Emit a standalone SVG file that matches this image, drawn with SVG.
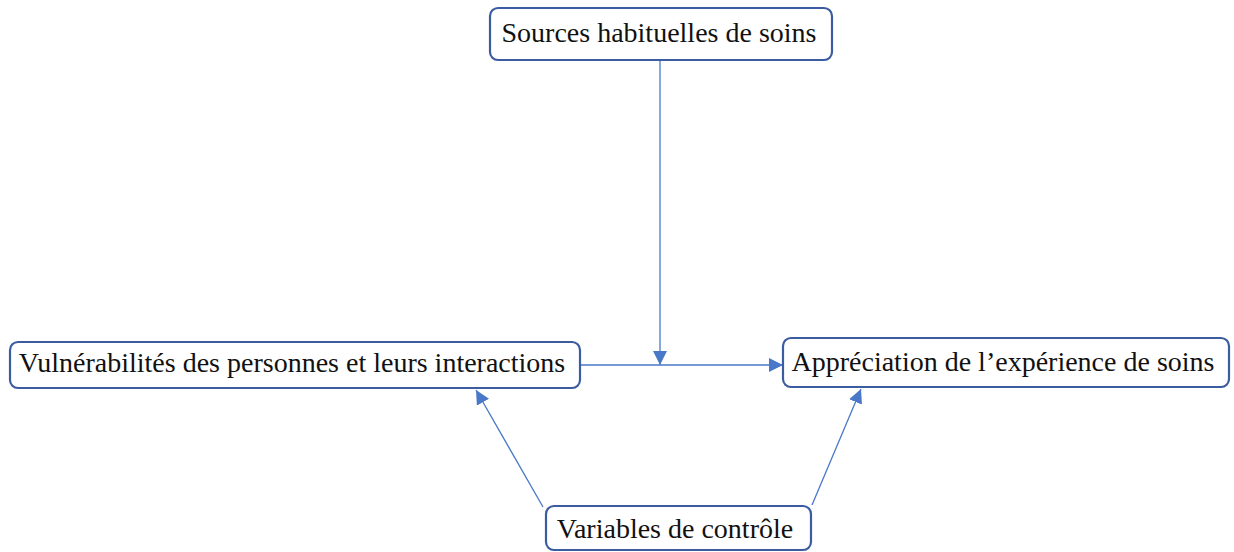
<svg xmlns="http://www.w3.org/2000/svg" width="1234" height="552" viewBox="0 0 1234 552">
<style>
.box{fill:#fff;stroke:#3b5ca0;stroke-width:2.2}
.lbl{font-family:"Liberation Serif","Times New Roman",serif;font-size:28px;fill:#111;text-anchor:middle}
.conn{stroke:#4a78c8;stroke-width:1.3;fill:none}
</style>
<defs>
<marker id="ah" viewBox="0 0 10 10" refX="10" refY="5" markerWidth="14" markerHeight="14" markerUnits="userSpaceOnUse" orient="auto">
<path d="M0,0 L10,5 L0,10 z" fill="#4a78c8"/>
</marker>
</defs>
<g id="connectors">
<line class="conn" x1="580" y1="365" x2="783" y2="365" marker-end="url(#ah)"/>
<line class="conn" x1="660" y1="60" x2="660" y2="365" marker-end="url(#ah)"/>
<line class="conn" x1="543" y1="507" x2="476" y2="390" marker-end="url(#ah)"/>
<line class="conn" x1="812" y1="505" x2="861" y2="389" marker-end="url(#ah)"/>
</g>
<g id="n_sources">
<rect class="box" x="490" y="8" width="342" height="52" rx="8"/>
<text class="lbl" x="659" y="42">Sources habituelles de soins</text>
</g>
<g id="n_vuln">
<rect class="box" x="10" y="342" width="570" height="46" rx="8"/>
<text class="lbl" x="292" y="372">Vulnérabilités des personnes et leurs interactions</text>
</g>
<g id="n_appr">
<rect class="box" x="783" y="338" width="446" height="49" rx="8"/>
<text class="lbl" x="1003" y="371">Appréciation de l’expérience de soins</text>
</g>
<g id="n_ctrl">
<rect class="box" x="546" y="506" width="265" height="44" rx="8"/>
<text class="lbl" x="675" y="538">Variables de contrôle</text>
</g>
</svg>
